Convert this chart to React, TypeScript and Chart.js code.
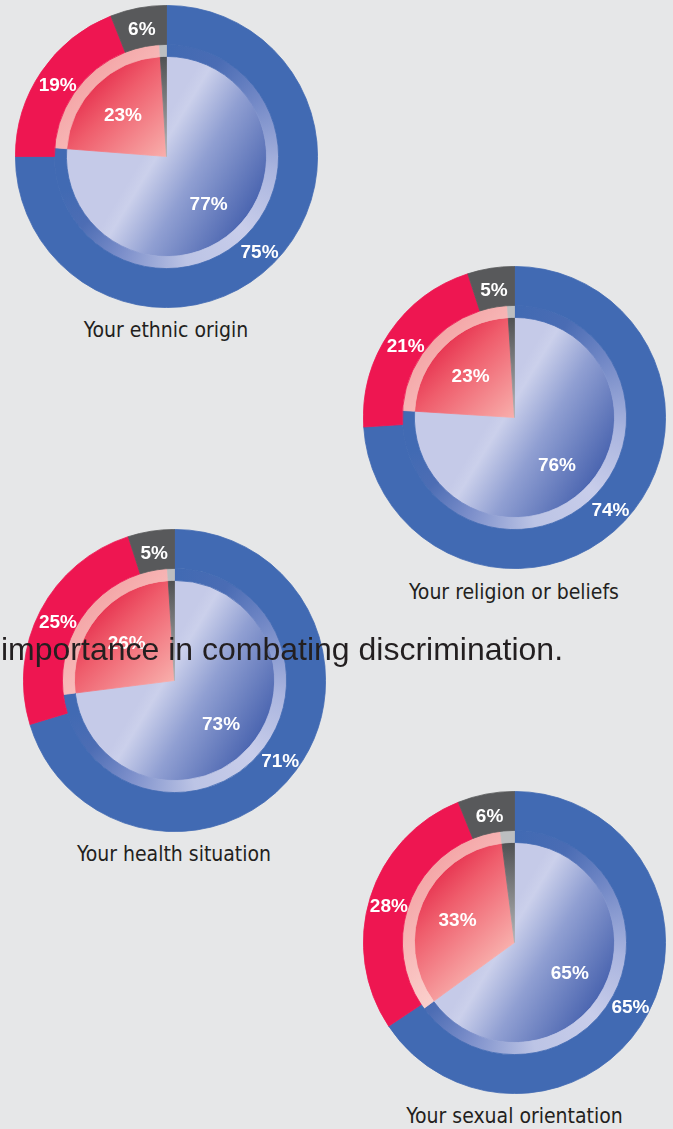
import React, { useEffect, useRef } from "react";
import { Chart, registerables } from "chart.js";

Chart.register(...registerables);

// ---- data ----
const categories = [
  "Your ethnic origin",
  "Your religion or beliefs",
  "Your health situation",
  "Your sexual orientation",
];
const outerBlue = [75, 74, 71, 65];
const outerRed = [19, 21, 25, 28];
const outerGray = [6, 5, 5, 6];
const innerBlue = [77, 76, 73, 65];
const innerRed = [23, 23, 26, 33];
const innerGray = [1, 1, 1, 2];
const overlayText = "importance in combating discrimination.";

// ---- layout / style ----
const PANELS = [
  { cx: 166, cy: 156 },
  { cx: 514, cy: 417.5 },
  { cx: 174, cy: 680 },
  { cx: 514.5, cy: 942 },
];
const R = 151;
const W_OUTER = 39;
const W_HALO = 12;
const W_INNER = 100;
const BG = "#e6e7e8";
const BLUE = "#416ab3";
const RED = "#ee1651";
const GRAY = "#58595b";

function geomOf(chart: any) {
  const a = chart.chartArea;
  if (!a) return null;
  const cx = (a.left + a.right) / 2;
  const cy = (a.top + a.bottom) / 2;
  const r = Math.min(a.right - a.left, a.bottom - a.top) / 2;
  const total = W_OUTER + W_HALO + W_INNER;
  return { cx, cy, r, rInner: (r * W_INNER) / total, rHalo: (r * (W_INNER + W_HALO)) / total };
}

function innerBlueFill(c: any) {
  const g = geomOf(c.chart);
  if (!g) return "#8d9dd2";
  const ux = 0.857, uy = 0.514;
  const ctx = c.chart.ctx as CanvasRenderingContext2D;
  const gr = ctx.createLinearGradient(
    g.cx - 0.2 * g.rInner * ux, g.cy - 0.2 * g.rInner * uy,
    g.cx + 0.98 * g.rInner * ux, g.cy + 0.98 * g.rInner * uy
  );
  gr.addColorStop(0, "#c5cae8");
  gr.addColorStop(0.1, "#cbd0eb");
  gr.addColorStop(0.45, "#909fd2");
  gr.addColorStop(1, "#4d67b1");
  return gr;
}
function innerRedFill(c: any) {
  const g = geomOf(c.chart);
  if (!g) return "#f07a80";
  const ctx = c.chart.ctx as CanvasRenderingContext2D;
  const gr = ctx.createLinearGradient(
    g.cx - 0.75 * g.rInner, g.cy - 0.75 * g.rInner,
    g.cx + 0.05 * g.rInner, g.cy + 0.05 * g.rInner
  );
  gr.addColorStop(0, "#e6304e");
  gr.addColorStop(0.3, "#ef5d6c");
  gr.addColorStop(1, "#f9b7b2");
  return gr;
}
function innerGrayFill(c: any) {
  const g = geomOf(c.chart);
  if (!g) return "#808184";
  const ctx = c.chart.ctx as CanvasRenderingContext2D;
  const gr = ctx.createLinearGradient(g.cx, g.cy - g.rInner, g.cx, g.cy);
  gr.addColorStop(0, "#4f5052");
  gr.addColorStop(1, "#b3b5b7");
  return gr;
}
function haloBlueFill(c: any) {
  const g = geomOf(c.chart);
  if (!g) return "#8d9dd2";
  const ctx = c.chart.ctx as any;
  if (!ctx.createConicGradient) return "#8d9dd2";
  const gr = ctx.createConicGradient(-Math.PI / 2, g.cx, g.cy);
  gr.addColorStop(0, BLUE);
  gr.addColorStop(0.08, "#4a6cb4");
  gr.addColorStop(0.16, "#7288c6");
  gr.addColorStop(0.27, "#aab5df");
  gr.addColorStop(0.37, "#c8cdea");
  gr.addColorStop(0.47, "#bcc4e5");
  gr.addColorStop(0.57, "#7b8eca");
  gr.addColorStop(0.64, "#4d6db4");
  gr.addColorStop(0.7, BLUE);
  gr.addColorStop(1, BLUE);
  return gr;
}
function haloRedFill(c: any) {
  const g = geomOf(c.chart);
  if (!g) return "#f7b9b5";
  const ctx = c.chart.ctx as CanvasRenderingContext2D;
  const gr = ctx.createLinearGradient(
    g.cx - 0.8 * g.rHalo, g.cy - 0.8 * g.rHalo,
    g.cx, g.cy
  );
  gr.addColorStop(0, "#f3a0a2");
  gr.addColorStop(1, "#fcd6d2");
  return gr;
}

const labelPlugin = {
  id: "segLabels",
  afterDatasetsDraw(chart: any) {
    const ctx = chart.ctx as CanvasRenderingContext2D;
    ctx.save();
    ctx.font = 'bold 19px "Liberation Sans", Arial, sans-serif';
    ctx.fillStyle = "#ffffff";
    ctx.textAlign = "center";
    ctx.textBaseline = "middle";
    chart.data.datasets.forEach((ds: any, di: number) => {
      const show = ds.showLabels;
      if (!show) return;
      const meta = chart.getDatasetMeta(di);
      meta.data.forEach((arc: any, i: number) => {
        if (!show[i]) return;
        const p = arc.getProps(["x", "y", "startAngle", "endAngle", "innerRadius", "outerRadius"], true);
        const mid = (p.startAngle + p.endAngle) / 2;
        const rr = p.innerRadius > 0.5 ? (p.innerRadius + p.outerRadius) / 2 : p.outerRadius * 0.62;
        ctx.fillText(ds.data[i] + "%", p.x + Math.cos(mid) * rr, p.y + Math.sin(mid) * rr + 3);
      });
    });
    ctx.restore();
  },
};

function Panel({ idx }: { idx: number }) {
  const ref = useRef<HTMLCanvasElement | null>(null);
  useEffect(() => {
    if (!ref.current) return;
    const innerVals = [innerBlue[idx], innerRed[idx], innerGray[idx]];
    const innerFills = [innerBlueFill, innerRedFill, innerGrayFill];
    const haloFills = [haloBlueFill, haloRedFill, () => "#bcbec0"];
    const outerFills = [BLUE, RED, GRAY];
    const chart = new Chart(ref.current, {
      type: "doughnut",
      data: {
        labels: ["Blue", "Red", "Gray"],
        datasets: [
          {
            data: [outerBlue[idx], outerRed[idx], outerGray[idx]],
            backgroundColor: outerFills,
            borderColor: outerFills,
            weight: W_OUTER,
            showLabels: [true, true, true],
          } as any,
          {
            data: innerVals,
            backgroundColor: (c: any) => haloFills[c.dataIndex](c),
            borderColor: (c: any) => haloFills[c.dataIndex](c),
            weight: W_HALO,
          } as any,
          {
            data: innerVals,
            backgroundColor: (c: any) => innerFills[c.dataIndex](c),
            borderColor: (c: any) => innerFills[c.dataIndex](c),
            weight: W_INNER,
            showLabels: [true, true, false],
          } as any,
        ],
      },
      options: {
        responsive: false,
        animation: false,
        cutout: 0,
        events: [],
        layout: { padding: 0 },
        elements: { arc: { borderWidth: 0.8, borderAlign: "center", hoverOffset: 0, offset: 0 } as any },
        plugins: { legend: { display: false }, tooltip: { enabled: false } },
      },
      plugins: [labelPlugin],
    });
    return () => chart.destroy();
  }, [idx]);
  const p = PANELS[idx];
  const S = 2 * R + 1;
  return (
    <>
      <div style={{ position: "absolute", left: p.cx - S / 2, top: p.cy - S / 2, width: S, height: S }}>
        <canvas ref={ref} width={S} height={S} style={{ display: "block" }} />
      </div>
      <div
        style={{
          position: "absolute",
          left: p.cx - 150,
          width: 300,
          top: p.cy + R + 31 - 18,
          textAlign: "center",
          fontFamily: "'DejaVu Sans Condensed', 'DejaVu Sans', sans-serif",
          fontStretch: "condensed",
          fontSize: 21,
          lineHeight: "21px",
          color: "#231f20",
          whiteSpace: "nowrap",
        }}
      >
        {categories[idx]}
      </div>
    </>
  );
}

export default function App() {
  useEffect(() => {
    document.body.style.margin = "0";
    document.body.style.background = BG;
  }, []);
  return (
    <div style={{ position: "absolute", left: 0, top: 0, width: 673, height: 1129, background: BG, overflow: "hidden" }}>
      {categories.map((_, i) => (
        <Panel key={i} idx={i} />
      ))}
      <div
        style={{
          position: "absolute",
          left: 1,
          top: 633,
          fontFamily: "'Liberation Sans', Arial, sans-serif",
          fontSize: 32,
          lineHeight: "32px",
          color: "#231f20",
          whiteSpace: "nowrap",
        }}
      >
        {overlayText}
      </div>
    </div>
  );
}
